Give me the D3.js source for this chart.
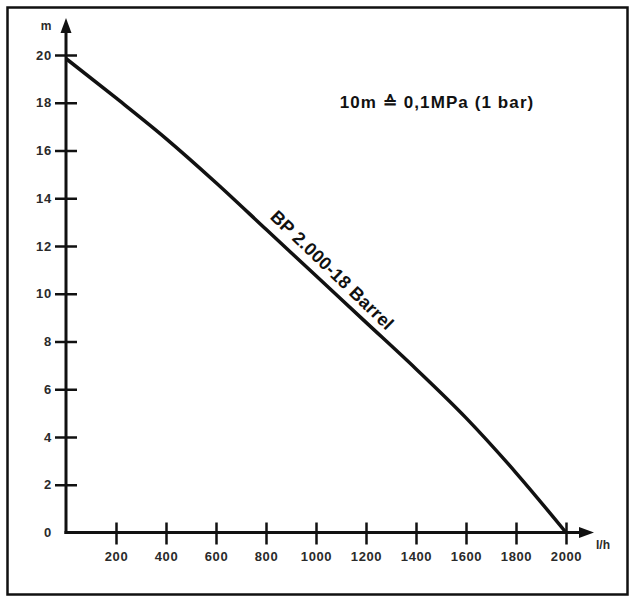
<!DOCTYPE html>
<html>
<head>
<meta charset="utf-8">
<script src="https://cdn.jsdelivr.net/npm/d3@7"></script>
<style>
  html, body { margin: 0; padding: 0; background: #fff; }
  svg { display: block; }
  text { font-family: "Liberation Sans", Arial, sans-serif; font-weight: bold; }
</style>
</head>
<body>
<svg id="chart" width="634" height="596"></svg>
<script>
// pump curve: flow (l/h) against head (m)
const flow = [0, 200, 400, 600, 800, 1000, 1200, 1400, 1600, 1800, 2000];
const head = [19.85, 18.2, 16.5, 14.65, 12.7, 10.75, 8.8, 6.85, 4.8, 2.5, 0];
const xTicks = [200, 400, 600, 800, 1000, 1200, 1400, 1600, 1800, 2000];
const yTicks = [0, 2, 4, 6, 8, 10, 12, 14, 16, 18, 20];
const seriesName = 'BP 2.000-18 Barrel';
const note = '10m \u2259 0,1MPa (1 bar)';

const svg = d3.select('#chart');

// frame
svg.append('rect')
  .attr('x', 7.5)
  .attr('y', 7.5)
  .attr('width', 620)
  .attr('height', 587)
  .attr('fill', '#fff')
  .attr('stroke', '#111')
  .attr('stroke-width', 2.5);

const x = d3.scaleLinear().domain([0, 2000]).range([66, 566]);
const y = d3.scaleLinear().domain([0, 20]).range([532.5, 55]);

/* ------------ axes ---------------- */
const yAxis = svg.append('g')
  .attr('transform', `translate(${x(0)},0)`)
  .call(d3.axisLeft(y).tickValues(yTicks).tickSize(0).tickPadding(14));
yAxis.select('.domain').remove();
yAxis.selectAll('.tick text')
  .attr('font-size', '13px')
  .attr('letter-spacing', 0.8)
  .attr('fill', '#2a2a2a');
yAxis.selectAll('.tick').filter(d => d !== 0)
  .append('line')
  .attr('x1', -11)
  .attr('x2', 11)
  .attr('stroke', '#111')
  .attr('stroke-width', 2.5);

const xAxis = svg.append('g')
  .attr('transform', `translate(0,${y(0)})`)
  .call(d3.axisBottom(x).tickValues(xTicks).tickFormat(d3.format('d')).tickSize(0).tickPadding(19));
xAxis.select('.domain').remove();
xAxis.selectAll('.tick text')
  .attr('font-size', '13px')
  .attr('letter-spacing', 0.6)
  .attr('fill', '#2a2a2a');
xAxis.selectAll('.tick')
  .append('line')
  .attr('y1', -10)
  .attr('y2', 12)
  .attr('stroke', '#111')
  .attr('stroke-width', 2.5);

// axis lines with arrow heads
svg.append('line')
  .attr('x1', x(0))
  .attr('y1', y(0) + 1.5)
  .attr('x2', x(0))
  .attr('y2', 30)
  .attr('stroke', '#111')
  .attr('stroke-width', 3);
svg.append('path')
  .attr('d', `M${x(0) - 5.5},33 L${x(0)},18 L${x(0) + 5.5},33 Z`)
  .attr('fill', '#111');

svg.append('line')
  .attr('x1', x(0) - 1.5)
  .attr('y1', y(0))
  .attr('x2', 582)
  .attr('y2', y(0))
  .attr('stroke', '#111')
  .attr('stroke-width', 3);
svg.append('path')
  .attr('d', `M579,${y(0) - 5.5} L594,${y(0)} L579,${y(0) + 5.5} Z`)
  .attr('fill', '#111');

svg.append('text')
  .attr('x', 46)
  .attr('y', 30)
  .attr('text-anchor', 'middle')
  .attr('font-size', '12px')
  .attr('fill', '#2a2a2a')
  .text('m');

svg.append('text')
  .attr('x', 596)
  .attr('y', 549)
  .attr('font-size', '12px')
  .attr('fill', '#2a2a2a')
  .text('l/h');

/* ------------ curve ---------------- */
const points = flow.map((f, i) => [f, head[i]]);
const line = d3.line()
  .x(d => x(d[0]))
  .y(d => y(d[1]))
  .curve(d3.curveMonotoneX);

svg.append('path')
  .datum(points)
  .attr('d', line)
  .attr('fill', 'none')
  .attr('stroke', '#111')
  .attr('stroke-width', 3.5)
  .attr('stroke-linejoin', 'round');

// series label along the curve
const lx = 1020, ly = 10.5;
svg.append('text')
  .attr('transform', `translate(${x(lx)},${y(ly)}) rotate(44)`)
  .attr('text-anchor', 'middle')
  .attr('dy', -10)
  .attr('font-size', '18px')
  .attr('letter-spacing', 0.3)
  .attr('fill', '#111')
  .text(seriesName);

svg.append('text')
  .attr('x', 437)
  .attr('y', 108)
  .attr('text-anchor', 'middle')
  .attr('font-size', '17px')
  .attr('letter-spacing', 1.1)
  .attr('fill', '#111')
  .text(note);
</script>
</body>
</html>
